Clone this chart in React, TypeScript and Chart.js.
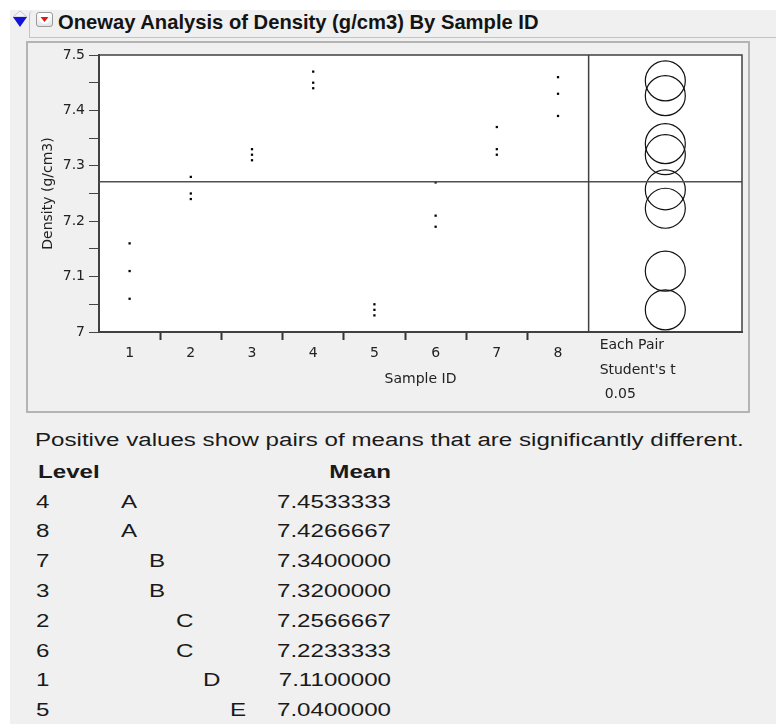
import React, { useEffect, useRef } from "react";
import { Chart, registerables } from "chart.js";

Chart.register(...registerables);

// ---- data ----
const sampleIds = [1, 2, 3, 4, 5, 6, 7, 8];
const densityBySample = [
  [7.16, 7.11, 7.06],
  [7.28, 7.25, 7.24],
  [7.33, 7.32, 7.31],
  [7.47, 7.45, 7.44],
  [7.05, 7.04, 7.03],
  [7.27, 7.21, 7.19],
  [7.37, 7.33, 7.32],
  [7.46, 7.43, 7.39],
];
const meanLevels = ["4", "8", "7", "3", "2", "6", "1", "5"];
const meanLetters = ["A", "A", "B", "B", "C", "C", "D", "E"];
const meanValues = [7.4533333, 7.4266667, 7.34, 7.32, 7.2566667, 7.2233333, 7.11, 7.04];
const comparisonNotes = ["Each Pair", "Student's t", "0.05"];

// ---- layout constants ----
const X_MIN = 0.5;
const X_MAX = 11.006; // main panel (0.5..8.5) + comparison circles panel
const PANEL_SPLIT = 8.5;
const CIRCLE_X = (PANEL_SPLIT + X_MAX) / 2;
const CHART_FONT = "'DejaVu Sans', sans-serif";
const TEXT_COLOR = "#222";

const allObs = densityBySample.flat();
const grandMean = allObs.reduce((a, b) => a + b, 0) / allObs.length;

const xTickValues: number[] = [];
sampleIds.forEach((id, i) => {
  xTickValues.push(id);
  if (i < sampleIds.length - 1) xTickValues.push((id + sampleIds[i + 1]) / 2);
});

function zeroPad(scale: any) {
  scale.paddingTop = 0;
  scale.paddingBottom = 0;
  scale.paddingLeft = 0;
  scale.paddingRight = 0;
}

const bgPlugin = {
  id: "areaBg",
  beforeDraw(chart: any) {
    const { ctx, chartArea } = chart;
    ctx.save();
    ctx.fillStyle = "#ffffff";
    ctx.fillRect(chartArea.left, chartArea.top, chartArea.right - chartArea.left, chartArea.bottom - chartArea.top);
    ctx.restore();
  },
};

const framePlugin = {
  id: "frames",
  afterDraw(chart: any) {
    const { ctx, chartArea, scales } = chart;
    const xs = scales.x;
    const split = xs.getPixelForValue(PANEL_SPLIT);
    ctx.save();
    ctx.strokeStyle = "#404040";
    ctx.lineWidth = 1.5;
    ctx.beginPath();
    ctx.moveTo(chartArea.left, chartArea.top);
    ctx.lineTo(chartArea.right, chartArea.top);
    ctx.lineTo(chartArea.right, chartArea.bottom);
    ctx.moveTo(split, chartArea.top);
    ctx.lineTo(split, chartArea.bottom);
    ctx.stroke();
    // notes under the comparison circles panel
    ctx.fillStyle = TEXT_COLOR;
    ctx.font = `14px ${CHART_FONT}`;
    ctx.textBaseline = "middle";
    ctx.textAlign = "left";
    const x0 = split + 11;
    const ys = [chartArea.bottom + 13, chartArea.bottom + 38, chartArea.bottom + 62];
    comparisonNotes.forEach((t, i) => {
      ctx.fillText(t, x0 + (i === 2 ? 5 : 0), ys[i]);
    });
    ctx.restore();
  },
};

function ChartPanel() {
  const ref = useRef<HTMLCanvasElement | null>(null);
  useEffect(() => {
    if (!ref.current) return;
    const points = densityBySample.flatMap((vals, i) => vals.map((v) => ({ x: sampleIds[i], y: v })));
    const chart = new Chart(ref.current, {
      type: "scatter",
      data: {
        datasets: [
          {
            type: "line",
            data: [
              { x: X_MIN, y: grandMean },
              { x: X_MAX, y: grandMean },
            ],
            borderColor: "#505050",
            borderWidth: 1.5,
            pointRadius: 0,
            fill: false,
          } as any,
          {
            data: points,
            pointStyle: "rect",
            pointRadius: 1.6,
            pointBackgroundColor: "#000",
            pointBorderColor: "#000",
            pointBorderWidth: 0,
          },
          {
            data: meanValues.map((m) => ({ x: CIRCLE_X, y: m })),
            pointStyle: "circle",
            pointRadius: 20,
            pointHoverRadius: 20,
            pointBackgroundColor: "rgba(0,0,0,0)",
            pointBorderColor: "#111",
            pointBorderWidth: 1.2,
          },
        ],
      },
      options: {
        animation: false,
        responsive: false,
        maintainAspectRatio: false,
        events: [],
        layout: { autoPadding: false, padding: { top: 13, right: 6, left: 0, bottom: 0 } },
        plugins: { legend: { display: false }, tooltip: { enabled: false } },
        scales: {
          x: {
            type: "linear",
            min: X_MIN,
            max: X_MAX,
            afterBuildTicks: (scale: any) => {
              scale.ticks = xTickValues.map((v) => ({ value: v }));
            },
            afterFit: (scale: any) => {
              scale.height = 80;
              zeroPad(scale);
            },
            ticks: {
              autoSkip: false,
              maxRotation: 0,
              padding: 5,
              color: TEXT_COLOR,
              font: { family: CHART_FONT, size: 14 },
              callback: (v: any) => (Number.isInteger(v) ? String(v) : ""),
            },
            grid: {
              drawOnChartArea: false,
              drawTicks: true,
              tickLength: 8,
              tickWidth: 2,
              tickColor: (ctx: any) => (ctx.tick && Number.isInteger(ctx.tick.value) ? "rgba(0,0,0,0)" : "#333"),
            },
            border: { display: true, color: "#404040", width: 2 },
            title: {
              display: true,
              text: "Sample ID",
              color: TEXT_COLOR,
              font: { family: CHART_FONT, size: 14 },
              padding: { top: 0, bottom: 24 },
            },
          },
          y: {
            type: "linear",
            min: 7,
            max: 7.5,
            afterFit: (scale: any) => {
              scale.width = 71;
              zeroPad(scale);
            },
            ticks: {
              stepSize: 0.05,
              autoSkip: false,
              padding: 4,
              color: TEXT_COLOR,
              font: { family: CHART_FONT, size: 14 },
              callback: (v: any) => {
                const r = Math.round(Number(v) * 100);
                return r % 10 === 0 ? String(r / 100) : "";
              },
            },
            grid: {
              drawOnChartArea: false,
              tickLength: 10,
              tickWidth: 1,
              tickColor: "#444",
            },
            border: { display: true, color: "#404040", width: 2 },
            title: {
              display: true,
              text: "Density (g/cm3)",
              color: TEXT_COLOR,
              font: { family: CHART_FONT, size: 14 },
              padding: { top: 11.6, bottom: 0 },
            },
          },
        },
      },
      plugins: [bgPlugin, framePlugin],
    } as any);
    return () => chart.destroy();
  }, []);
  return (
    <canvas
      ref={ref}
      width={720}
      height={370}
      style={{ position: "absolute", left: 28, top: 42, width: 720, height: 370 }}
    />
  );
}

const TABLE_FONT = "'Liberation Sans', Arial, sans-serif";
const STRETCH = "scaleX(1.34)";

function txt(style: React.CSSProperties, content: string, key?: string) {
  return (
    <div
      key={key}
      style={{
        position: "absolute",
        fontFamily: TABLE_FONT,
        fontSize: 18,
        lineHeight: "20px",
        whiteSpace: "nowrap",
        color: "#1a1a1a",
        transform: STRETCH,
        transformOrigin: "left center",
        ...style,
      }}
    >
      {content}
    </div>
  );
}

export default function App() {
  const rowTop = (i: number) => 501.4 + 29.8 * i - 9.9;
  return (
    <div
      style={{
        position: "fixed",
        left: 0,
        top: 0,
        width: 776,
        height: 724,
        background: "#ffffff",
        overflow: "hidden",
        fontFamily: TABLE_FONT,
      }}
    >
      <div style={{ position: "absolute", left: 10, top: 10, right: 0, bottom: 0, background: "#f0f0f0" }} />
      {/* header outline */}
      <div
        style={{
          position: "absolute",
          left: 29,
          top: 11,
          width: 760,
          height: 26,
          borderLeft: "1px solid #c4c4c4",
          borderBottom: "1px solid #c4c4c4",
          borderTopLeftRadius: 4,
        }}
      />
      <svg style={{ position: "absolute", left: 12, top: 10 }} width={16} height={18}>
        <polygon points="1,7 15,7 8,1" fill="#f4f4f8" stroke="#b8b8c8" strokeWidth={0.8} />
        <polygon points="1,7 15,7 8,17" fill="#1414d8" />
      </svg>
      <div
        style={{
          position: "absolute",
          left: 36,
          top: 12,
          width: 15,
          height: 13,
          border: "1px solid #9a9a9a",
          borderRadius: 3,
          background: "linear-gradient(#ffffff, #e4e4e4)",
        }}
      >
        <svg width={15} height={13} style={{ position: "absolute", left: 0, top: 0 }}>
          <circle cx={7.5} cy={6} r={5} fill="#ffffff" />
          <polygon points="3.5,4 11.5,4 7.5,9" fill="#e01818" />
        </svg>
      </div>
      <div
        style={{
          position: "absolute",
          left: 58,
          top: 11,
          fontFamily: TABLE_FONT,
          fontWeight: "bold",
          fontSize: 20.2,
          whiteSpace: "nowrap",
          color: "#141414",
        }}
      >
        Oneway Analysis of Density (g/cm3) By Sample ID
      </div>
      {/* chart panel outline */}
      <div
        style={{
          position: "absolute",
          left: 26,
          top: 41,
          width: 724,
          height: 372,
          boxSizing: "border-box",
          border: "2px solid #b4b4b4",
        }}
      />
      <ChartPanel />
      {txt({ left: 35, top: 430 }, "Positive values show pairs of means that are significantly different.")}
      {txt({ left: 38, top: 471.6 - 9.9, fontWeight: "bold" }, "Level")}
      {txt(
        { left: 0, width: 391, textAlign: "right", top: 471.6 - 9.9, fontWeight: "bold", transformOrigin: "right center" },
        "Mean"
      )}
      {meanLevels.map((lv, i) => txt({ left: 35.5, top: rowTop(i) }, lv, "l" + i))}
      {meanLetters.map((lt, i) =>
        txt({ left: 121.3 + 27.2 * (lt.charCodeAt(0) - 65), top: rowTop(i) }, lt, "c" + i)
      )}
      {meanValues.map((m, i) =>
        txt(
          { left: 0, width: 391, textAlign: "right", top: rowTop(i), transformOrigin: "right center" },
          m.toFixed(7),
          "m" + i
        )
      )}
    </div>
  );
}
